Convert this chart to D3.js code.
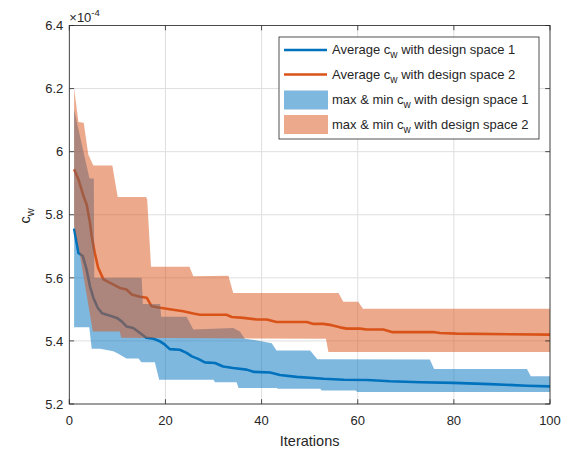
<!DOCTYPE html>
<html><head><meta charset="utf-8">
<script src="https://cdn.jsdelivr.net/npm/d3@7"></script>
<style>
html,body{margin:0;padding:0;background:#fff;}
svg text{font-family:"Liberation Sans",Arial,Helvetica,sans-serif;fill:#262626;}
</style></head>
<body>
<svg id="chart" width="570" height="450"></svg>
<script>
// ---- data (values in units of 1e-4), vertices as [iteration, value] ----
const avgDS1 = [[1,5.756],[1.9,5.679],[2.8,5.669],[3.6,5.626],[4.3,5.573],[5.0,5.537],[5.9,5.505],[6.8,5.488],[8.5,5.48],[9.9,5.473],[10.9,5.462],[11.9,5.446],[13.3,5.441],[14.7,5.425],[16.0,5.41],[17.5,5.407],[18.7,5.40],[19.9,5.388],[20.9,5.374],[23.0,5.372],[24.4,5.362],[25.5,5.351],[26.8,5.343],[28.2,5.332],[30.3,5.33],[32.0,5.319],[34.1,5.314],[36.9,5.309],[38.3,5.302],[41.8,5.30],[43.8,5.292],[47.3,5.286],[52.9,5.28],[57.1,5.277],[62.0,5.276],[66.7,5.272],[73.0,5.269],[79.9,5.267],[87.5,5.263],[95.2,5.258],[100,5.256]];
const avgDS2 = [[1,5.944],[1.9,5.912],[2.9,5.862],[3.6,5.833],[4.3,5.775],[4.66,5.732],[5.3,5.679],[6.0,5.632],[7.1,5.595],[8.5,5.584],[9.9,5.573],[10.5,5.568],[11.9,5.563],[13.0,5.547],[14.7,5.54],[16.1,5.537],[17.1,5.51],[18.9,5.505],[21.6,5.499],[23.7,5.494],[25.8,5.487],[27.2,5.483],[32.7,5.483],[33.8,5.476],[36.2,5.473],[39.0,5.468],[41.1,5.468],[43.1,5.46],[49.4,5.46],[50.8,5.454],[52.8,5.454],[54.6,5.45],[56.3,5.443],[57.7,5.439],[60.5,5.439],[61.9,5.436],[65.3,5.436],[67.1,5.428],[75.7,5.428],[77.1,5.425],[80.6,5.423],[100,5.42]];
const maxDS1 = [[1,6.134],[2.5,6.03],[4.2,5.915],[5.1,5.915],[5.2,5.60],[15.06,5.60],[15.3,5.517],[18.9,5.517],[19.1,5.477],[24.4,5.477],[25.8,5.436],[34.1,5.441],[35.5,5.43],[36.5,5.407],[39.7,5.40],[42.1,5.393],[43.1,5.37],[50.1,5.37],[51.6,5.342],[75.0,5.341],[75.9,5.311],[95.2,5.311],[96.0,5.288],[100,5.288]];
const minDS1 = [[1,5.443],[4.16,5.443],[4.66,5.375],[6.4,5.375],[9.15,5.367],[10.1,5.36],[11.9,5.344],[14.4,5.344],[15.0,5.332],[17.8,5.332],[18.7,5.277],[30.0,5.277],[30.3,5.269],[34.8,5.269],[35.2,5.251],[43.1,5.251],[43.4,5.248],[52.2,5.248],[52.5,5.243],[59.6,5.243],[59.9,5.238],[100,5.238]];
const maxDS2 = [[1,6.2],[1.9,6.094],[3.0,6.092],[3.95,5.991],[5.0,5.956],[8.95,5.956],[10.07,5.856],[15.96,5.856],[16.2,5.849],[17.0,5.635],[25.0,5.635],[25.8,5.605],[33.1,5.607],[34.1,5.552],[56.0,5.552],[57.0,5.524],[60.1,5.524],[61.1,5.502],[100,5.502]];
const minDS2 = [[1,5.765],[1.9,5.70],[4.9,5.43],[10.5,5.43],[10.8,5.41],[53.4,5.407],[53.9,5.365],[100,5.365]];
const xTicks = [0,20,40,60,80,100];
const yTicks = [5.2,5.4,5.6,5.8,6,6.2,6.4];
const legendLabels = [
  ["Average c","w"," with design space 1"],
  ["Average c","w"," with design space 2"],
  ["max & min c","w"," with design space 1"],
  ["max & min c","w"," with design space 2"]
];
// ---- styles ----
const blue = "#0072BD", orange = "#D95319";
const axisCol = "#262626";

const svg = d3.select("#chart");
const L = 69.3, R = 550, T = 25.5, B = 404;
const x = d3.scaleLinear().domain([0,100]).range([L,R]);
const y = d3.scaleLinear().domain([5.2,6.4]).range([B,T]);

svg.append("defs").append("clipPath").attr("id","clip")
  .append("rect").attr("x",L).attr("y",T).attr("width",R-L).attr("height",B-T);

// grid
const grid = svg.append("g");
xTicks.forEach(t=>{ grid.append("line").attr("x1",x(t)).attr("x2",x(t)).attr("y1",T).attr("y2",B)
  .attr("stroke","#dfdfdf").attr("stroke-width",1); });
yTicks.forEach(t=>{ grid.append("line").attr("x1",L).attr("x2",R).attr("y1",y(t)).attr("y2",y(t))
  .attr("stroke","#dfdfdf").attr("stroke-width",1); });

const plot = svg.append("g").attr("clip-path","url(#clip)");
const line = d3.line().x(d=>x(d[0])).y(d=>y(d[1]));
// lines first (fills drawn over with transparency, as in the original)
plot.append("path").attr("d",line(avgDS1)).attr("fill","none").attr("stroke",blue).attr("stroke-width",2.6).attr("stroke-linejoin","round");
plot.append("path").attr("d",line(avgDS2)).attr("fill","none").attr("stroke",orange).attr("stroke-width",2.6).attr("stroke-linejoin","round");
function band(maxArr,minArr){ return line(maxArr.concat(minArr.slice().reverse()))+"Z"; }
plot.append("path").attr("d",band(maxDS1,minDS1)).attr("fill",blue).attr("fill-opacity",0.5).attr("stroke","none");
plot.append("path").attr("d",band(maxDS2,minDS2)).attr("fill",orange).attr("fill-opacity",0.5).attr("stroke","none");

// axes box
const ax = svg.append("g");
ax.append("rect").attr("x",L).attr("y",T).attr("width",R-L).attr("height",B-T)
  .attr("fill","none").attr("stroke",axisCol).attr("stroke-width",0.8);
const tl = 4.8;
xTicks.forEach(t=>{
  ax.append("line").attr("x1",x(t)).attr("x2",x(t)).attr("y1",B).attr("y2",B-tl).attr("stroke",axisCol).attr("stroke-width",0.8);
  ax.append("line").attr("x1",x(t)).attr("x2",x(t)).attr("y1",T).attr("y2",T+tl).attr("stroke",axisCol).attr("stroke-width",0.8);
  ax.append("text").attr("x",x(t)).attr("y",B+21).attr("text-anchor","middle").attr("font-size",13).text(t);
});
yTicks.forEach(t=>{
  ax.append("line").attr("x1",L).attr("x2",L+tl).attr("y1",y(t)).attr("y2",y(t)).attr("stroke",axisCol).attr("stroke-width",0.8);
  ax.append("line").attr("x1",R).attr("x2",R-tl).attr("y1",y(t)).attr("y2",y(t)).attr("stroke",axisCol).attr("stroke-width",0.8);
  ax.append("text").attr("x",L-6).attr("y",y(t)+4.7).attr("text-anchor","end").attr("font-size",13).text(d3.format("")(+t.toFixed(1)));
});
// exponent
const ex = ax.append("text").attr("x",L).attr("y",T-4).attr("font-size",13);
ex.append("tspan").text("\u00d710");
ex.append("tspan").attr("dy",-6).attr("font-size",9.5).text("-4");

// axis labels
ax.append("text").attr("x",(L+R)/2).attr("y",446).attr("text-anchor","middle").attr("font-size",14.5).text("Iterations");
const yl = ax.append("text").attr("transform","translate(30,216) rotate(-90)").attr("text-anchor","middle").attr("font-size",14.5);
yl.append("tspan").text("c");
yl.append("tspan").attr("dy",4).attr("font-size",11).text("w");

// legend
const lg = svg.append("g");
lg.append("rect").attr("x",279).attr("y",37).attr("width",260).attr("height",102)
  .attr("fill","#fff").attr("stroke",axisCol).attr("stroke-width",0.8);
const rowY = [50,74.5,100,124.5];
lg.append("line").attr("x1",284).attr("x2",327).attr("y1",rowY[0]).attr("y2",rowY[0]).attr("stroke",blue).attr("stroke-width",2.6);
lg.append("line").attr("x1",284).attr("x2",327).attr("y1",rowY[1]).attr("y2",rowY[1]).attr("stroke",orange).attr("stroke-width",2.6);
lg.append("rect").attr("x",284).attr("y",rowY[2]-9.5).attr("width",44).attr("height",19).attr("fill",blue).attr("fill-opacity",0.5);
lg.append("rect").attr("x",284).attr("y",rowY[3]-9.5).attr("width",44).attr("height",19).attr("fill",orange).attr("fill-opacity",0.5);
legendLabels.forEach((lab,i)=>{
  const t = lg.append("text").attr("x",332).attr("y",rowY[i]+4).attr("font-size",13);
  t.append("tspan").text(lab[0]);
  t.append("tspan").attr("dy",4).attr("font-size",10).text(lab[1]);
  t.append("tspan").attr("dy",-4).text(lab[2]);
});
</script>
</body></html>
